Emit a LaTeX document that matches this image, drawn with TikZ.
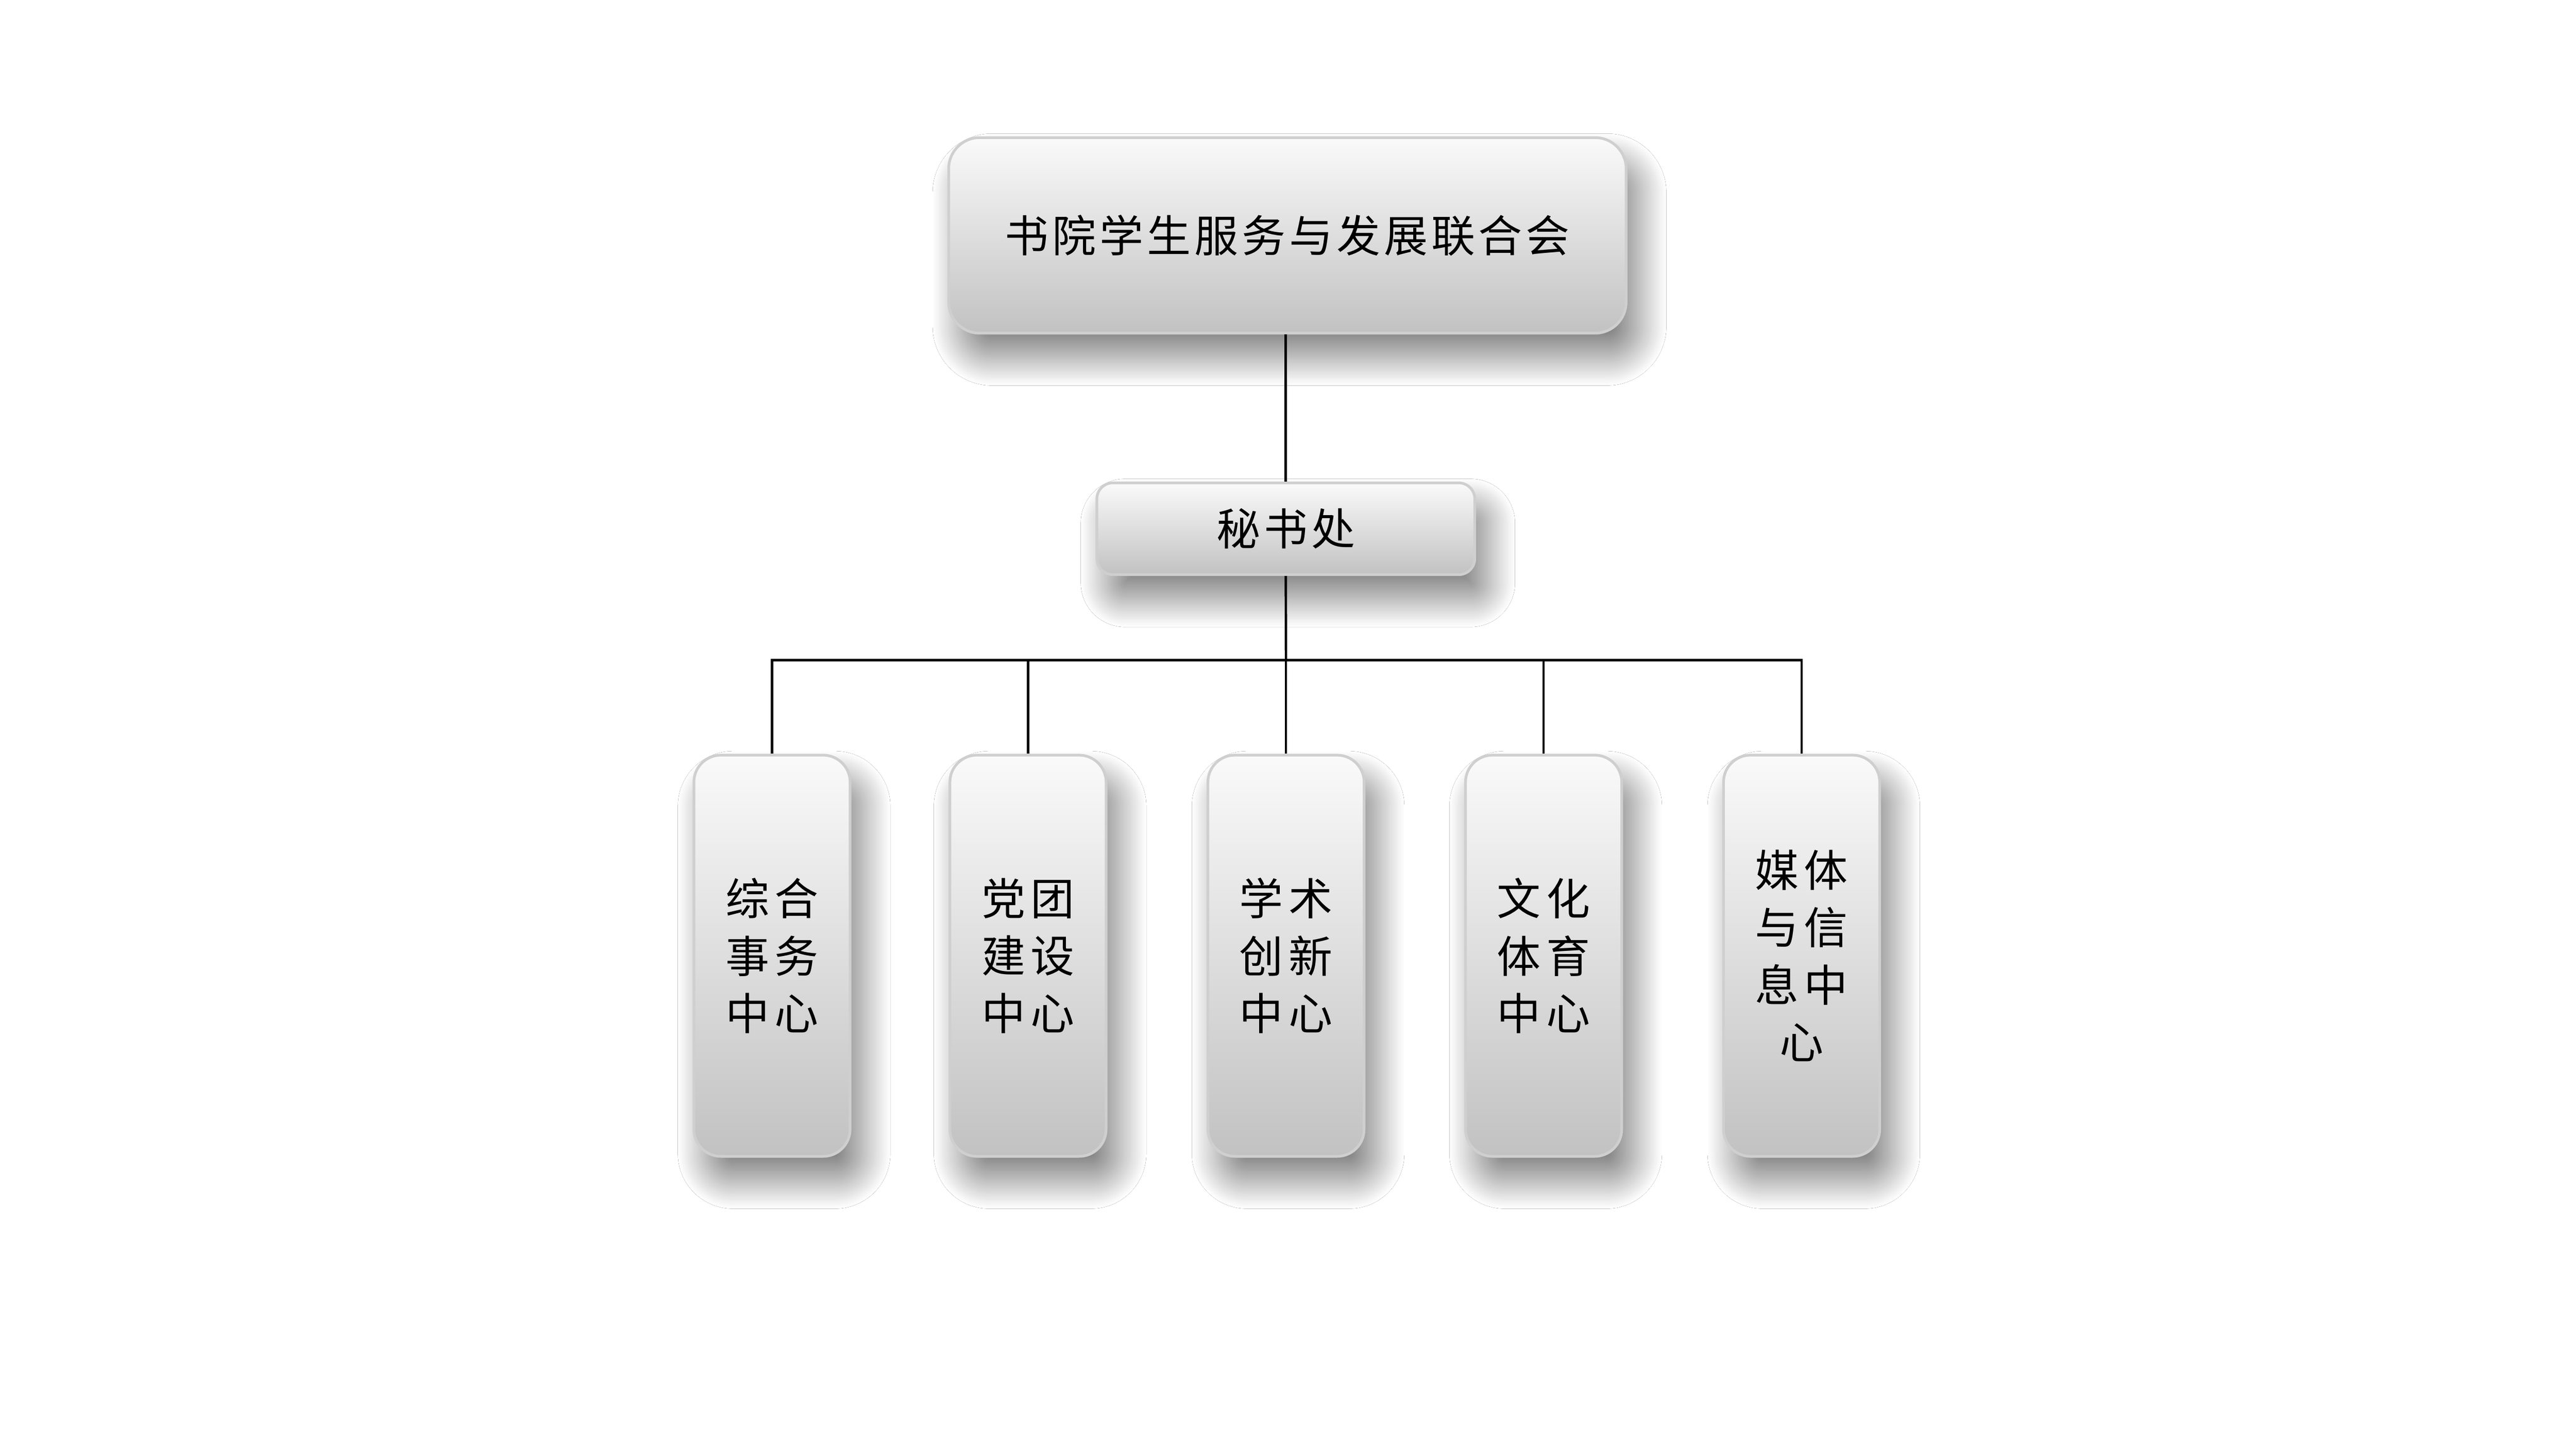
\documentclass[tikz,border=0pt]{standalone}
\usepackage{fontspec}
\newfontfamily\cjkhead[LetterSpace=8]{Noto Sans CJK SC}
\newfontfamily\cjkcol[LetterSpace=12]{Noto Sans CJK SC}
\usetikzlibrary{shadows.blur}
\tikzset{
  orgbox/.style={draw=black!19, line width=1.9pt, rounded corners=#1,
    top color=black!2, bottom color=black!24, inner sep=0pt, align=center,
    blur shadow={shadow xshift=0.3cm, shadow yshift=-0.6cm,
      shadow blur radius=0.7cm, shadow blur steps=60, shadow opacity=50}},
  headtext/.style={font={\cjkhead\fontsize{31pt}{36pt}\selectfont}},
  coltext/.style={font={\cjkcol\fontsize{31pt}{40.6pt}\selectfont}},
  link/.style={draw=black, line width=1.7pt}
}
\begin{document}
\begin{tikzpicture}
\useasboundingbox[fill=white] (0,0) rectangle (64,36);
\node[orgbox=0.77cm, headtext, minimum width=16.83cm, minimum height=4.86cm] (top) at (31.985,30.15) {书院学生服务与发展联合会};
\node[orgbox=0.4cm, headtext, minimum width=9.39cm, minimum height=2.28cm] (sec) at (31.945,22.86) {秘书处};
\node[orgbox=0.67cm, coltext, minimum width=3.88cm, minimum height=9.97cm] (b1) at (19.18,12.25) {综合\\事务\\中心};
\node[orgbox=0.67cm, coltext, minimum width=3.88cm, minimum height=9.97cm] (b2) at (25.54,12.25) {党团\\建设\\中心};
\node[orgbox=0.67cm, coltext, minimum width=3.88cm, minimum height=9.97cm] (b3) at (31.95,12.25) {学术\\创新\\中心};
\node[orgbox=0.67cm, coltext, minimum width=3.88cm, minimum height=9.97cm] (b4) at (38.35,12.25) {文化\\体育\\中心};
\node[orgbox=0.67cm, coltext, minimum width=3.88cm, minimum height=9.97cm] (b5) at (44.76,12.25) {媒体\\与信\\息中\\心};
\coordinate (bus) at (31.95,19.60);
\draw[link] (top.south -| sec.north) -- (sec.north);
\draw[link] (sec.south) -- (bus);
\draw[link] (b1.north) -- (b1.north |- bus) -- (b5.north |- bus) -- (b5.north);
\draw[link] (b2.north) -- (b2.north |- bus);
\draw[link] (b3.north) -- (b3.north |- bus);
\draw[link] (b4.north) -- (b4.north |- bus);
\end{tikzpicture}
\end{document}
